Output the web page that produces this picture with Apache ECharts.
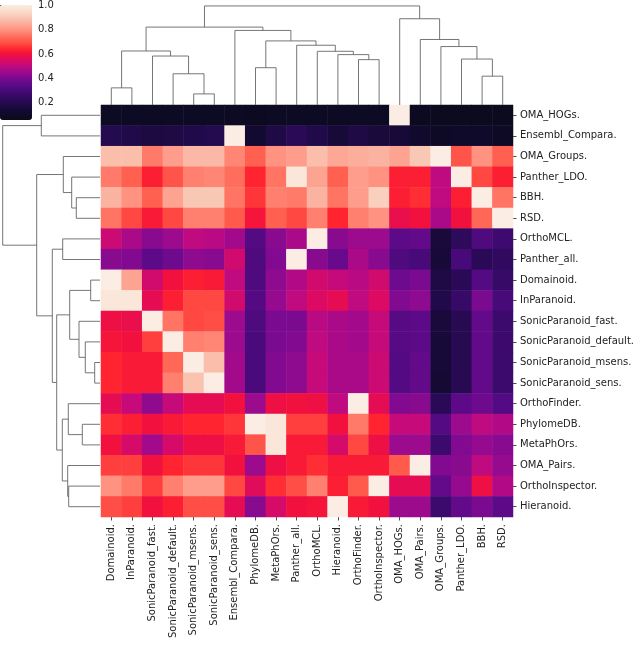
<!DOCTYPE html>
<html>
<head>
<meta charset="utf-8">
<script src="https://cdn.jsdelivr.net/npm/echarts@6/dist/echarts.min.js"></script>
<style>
html,body{margin:0;padding:0;background:#fff;}
#chart{width:643px;height:645px;}
</style>
</head>
<body>
<div id="chart"></div>
<script>
// ---- categories ----
const colNames = ['Domainoid.','InParanoid.','SonicParanoid_fast.','SonicParanoid_default.','SonicParanoid_msens.','SonicParanoid_sens.','Ensembl_Compara.','PhylomeDB.','MetaPhOrs.','Panther_all.','OrthoMCL.','Hieranoid.','OrthoFinder.','OrthoInspector.','OMA_HOGs.','OMA_Pairs.','OMA_Groups.','Panther_LDO.','BBH.','RSD.'];
const rowNames = ['OMA_HOGs.','Ensembl_Compara.','OMA_Groups.','Panther_LDO.','BBH.','RSD.','OrthoMCL.','Panther_all.','Domainoid.','InParanoid.','SonicParanoid_fast.','SonicParanoid_default.','SonicParanoid_msens.','SonicParanoid_sens.','OrthoFinder.','PhylomeDB.','MetaPhOrs.','OMA_Pairs.','OrthoInspector.','Hieranoid.'];

// ---- matrix values, one array per row (columns in colNames order) ----
const rowOMA_HOGs        = [0.09,0.09,0.09,0.09,0.09,0.09,0.09,0.08,0.09,0.09,0.09,0.09,0.09,0.09,1.00,0.08,0.07,0.07,0.07,0.07];
const rowEnsembl_Compara = [0.20,0.19,0.17,0.18,0.19,0.20,1.00,0.13,0.18,0.22,0.19,0.15,0.18,0.16,0.15,0.12,0.10,0.11,0.11,0.10];
const rowOMA_Groups      = [0.88,0.88,0.76,0.82,0.87,0.87,0.78,0.72,0.80,0.82,0.88,0.84,0.85,0.86,0.83,0.90,1.00,0.70,0.80,0.72];
const rowPanther_LDO     = [0.76,0.72,0.63,0.70,0.77,0.78,0.74,0.64,0.75,0.98,0.83,0.72,0.82,0.80,0.63,0.63,0.50,1.00,0.68,0.63];
const rowBBH             = [0.86,0.80,0.72,0.83,0.90,0.90,0.75,0.66,0.77,0.76,0.86,0.75,0.82,0.92,0.63,0.65,0.50,0.63,1.00,0.75];
const rowRSD             = [0.75,0.68,0.62,0.68,0.77,0.77,0.71,0.61,0.72,0.68,0.77,0.64,0.77,0.80,0.58,0.60,0.47,0.60,0.73,1.00];
const rowOrthoMCL        = [0.52,0.47,0.42,0.45,0.50,0.49,0.46,0.33,0.42,0.47,1.00,0.42,0.45,0.45,0.35,0.36,0.16,0.23,0.32,0.28];
const rowPanther_all     = [0.42,0.41,0.35,0.38,0.43,0.42,0.53,0.32,0.41,1.00,0.42,0.37,0.47,0.42,0.32,0.30,0.15,0.30,0.22,0.24];
const rowDomainoid       = [1.00,0.83,0.53,0.60,0.63,0.62,0.50,0.32,0.43,0.48,0.53,0.51,0.49,0.53,0.38,0.40,0.18,0.22,0.33,0.26];
const rowInParanoid      = [0.98,0.98,0.57,0.63,0.68,0.68,0.53,0.33,0.44,0.50,0.55,0.57,0.50,0.55,0.41,0.43,0.19,0.26,0.40,0.30];
const rowSP_fast         = [0.59,0.58,1.00,0.75,0.68,0.69,0.45,0.32,0.40,0.40,0.49,0.47,0.46,0.51,0.34,0.35,0.16,0.21,0.36,0.27];
const rowSP_default      = [0.61,0.60,0.67,1.00,0.77,0.78,0.45,0.31,0.40,0.41,0.50,0.47,0.46,0.51,0.34,0.35,0.15,0.21,0.36,0.27];
const rowSP_msens        = [0.64,0.62,0.62,0.73,1.00,0.88,0.46,0.31,0.41,0.43,0.51,0.47,0.47,0.52,0.33,0.36,0.15,0.21,0.36,0.27];
const rowSP_sens         = [0.64,0.62,0.62,0.77,0.89,1.00,0.46,0.31,0.41,0.43,0.51,0.47,0.47,0.52,0.33,0.36,0.14,0.21,0.36,0.27];
const rowOrthoFinder     = [0.57,0.51,0.43,0.51,0.57,0.57,0.60,0.45,0.59,0.60,0.59,0.50,1.00,0.57,0.41,0.42,0.22,0.35,0.38,0.33];
const rowPhylomeDB       = [0.65,0.63,0.60,0.62,0.64,0.64,0.66,1.00,0.98,0.67,0.67,0.60,0.76,0.64,0.51,0.51,0.33,0.45,0.50,0.48];
const rowMetaPhOrs       = [0.60,0.54,0.46,0.54,0.59,0.59,0.62,0.70,0.98,0.62,0.62,0.54,0.68,0.59,0.45,0.45,0.27,0.41,0.44,0.42];
const rowOMA_Pairs       = [0.67,0.67,0.60,0.64,0.66,0.66,0.60,0.45,0.59,0.62,0.65,0.62,0.62,0.62,0.71,1.00,0.41,0.42,0.50,0.44];
const rowOrthoInspector  = [0.80,0.76,0.67,0.77,0.82,0.82,0.68,0.56,0.65,0.69,0.77,0.63,0.71,1.00,0.57,0.57,0.36,0.44,0.59,0.48];
const rowHieranoid       = [0.69,0.67,0.60,0.63,0.69,0.69,0.57,0.42,0.54,0.60,0.61,1.00,0.62,0.60,0.45,0.45,0.27,0.36,0.40,0.35];
const matrixRows = [rowOMA_HOGs,rowEnsembl_Compara,rowOMA_Groups,rowPanther_LDO,rowBBH,rowRSD,rowOrthoMCL,rowPanther_all,rowDomainoid,rowInParanoid,rowSP_fast,rowSP_default,rowSP_msens,rowSP_sens,rowOrthoFinder,rowPhylomeDB,rowMetaPhOrs,rowOMA_Pairs,rowOrthoInspector,rowHieranoid];

// ---- dendrogram linkages: [leftChild, rightChild, distance]; leaves 0..19 in display order, merges numbered from 20 ----
const colLinkage = [
  [0,1,17.0],[4,5,11.0],[3,21,31.0],[2,22,48.6],[20,23,53.6],
  [7,8,37.0],[12,13,45.0],[11,26,50.0],[10,27,53.3],[9,28,59.3],
  [25,29,63.6],[6,30,74.0],[24,31,77.3],[18,19,28.6],[17,33,45.6],
  [16,34,58.0],[15,35,65.0],[14,36,85.6],[32,37,98.3]
];
const rowLinkage = [
  [0,1,58.7],[4,5,23.7],[3,21,28.3],[2,22,36.7],[6,7,37.3],
  [8,9,9.3],[12,13,5.3],[11,26,14.7],[10,27,21.0],[25,28,30.3],
  [15,16,17.7],[14,30,31.7],[18,19,31.3],[17,32,32.3],[31,33,37.7],
  [29,34,43.3],[24,35,47.7],[23,36,63.3],[20,37,97.3]
];

// ---- colour bar ----
const cbarMin = 0.06, cbarMax = 1.0;
const cbarTicks = [0.2, 0.4, 0.6, 0.8, 1.0];
const cmapStops = [
  [0.06,'#0a0a1c'],[0.10,'#0e0a26'],[0.15,'#170a38'],[0.20,'#240a4e'],[0.25,'#340a64'],
  [0.30,'#470a78'],[0.35,'#5c0a88'],[0.40,'#7a0a90'],[0.45,'#9c0a8e'],[0.50,'#c00a80'],
  [0.55,'#dc0a62'],[0.60,'#f2103e'],[0.64,'#ff2430'],[0.68,'#ff4842'],[0.72,'#ff6050'],
  [0.76,'#ff7a68'],[0.80,'#ff9280'],[0.85,'#fcae9c'],[0.90,'#f9c8b4'],[0.95,'#f9ddcc'],[1.00,'#fbede4']
];

function hexToRgb(h){ return [parseInt(h.slice(1,3),16),parseInt(h.slice(3,5),16),parseInt(h.slice(5,7),16)]; }
function cmapAt(v){
  if (v <= cmapStops[0][0]) return cmapStops[0][1];
  for (let i=1;i<cmapStops.length;i++){
    if (v <= cmapStops[i][0]){
      const [v0,c0]=cmapStops[i-1],[v1,c1]=cmapStops[i];
      const t=(v-v0)/(v1-v0), a=hexToRgb(c0), b=hexToRgb(c1);
      const c=a.map((x,k)=>Math.round(x+(b[k]-x)*t));
      return 'rgb('+c.join(',')+')';
    }
  }
  return cmapStops[cmapStops.length-1][1];
}
const nColors = 95;
const colorList = [];
for (let i=0;i<nColors;i++) colorList.push(cmapAt(cbarMin+(cbarMax-cbarMin)*i/(nColors-1)));

const heatData = [];
matrixRows.forEach((row,ri)=>row.forEach((v,ci)=>heatData.push([ci,ri,v])));

function dendroSegments(linkage, n, horizontal){
  const pos=[], ht=[];
  for (let i=0;i<n;i++){ pos.push(i+0.5); ht.push(0); }
  const segs=[];
  linkage.forEach(([l,r,h])=>{
    const pts=[[pos[l],ht[l]],[pos[l],h],[pos[r],h],[pos[r],ht[r]]];
    segs.push({coords: horizontal ? pts : pts.map(p=>[p[1],p[0]])});
    pos.push((pos[l]+pos[r])/2); ht.push(h);
  });
  return segs;
}

const FONT = 'DejaVu Sans';
const TXT = '#222';
const HM = {left:101, top:105, width:412, height:412};

const chart = echarts.init(document.getElementById('chart'), null, {renderer:'canvas'});
chart.setOption({
  animation:false,
  backgroundColor:'#fff',
  textStyle:{fontFamily:FONT},
  grid:[
    {left:HM.left, top:HM.top, width:HM.width, height:HM.height},
    {left:HM.left, top:1, width:HM.width, height:HM.top-1},
    {left:0, top:HM.top, width:HM.left-1, height:HM.height},
    {left:0, top:5, width:32, height:115}
  ],
  xAxis:[
    {type:'category', gridIndex:0, data:colNames, position:'bottom',
     axisLine:{show:false}, splitLine:{show:false},
     axisTick:{show:true, alignWithLabel:true, interval:0, length:3.5, lineStyle:{color:TXT, width:0.8}},
     axisLabel:{interval:0, rotate:90, margin:7, fontSize:10, color:TXT, fontFamily:FONT}},
    {type:'value', gridIndex:1, min:0, max:colNames.length, show:false},
    {type:'value', gridIndex:2, min:0, max:100, inverse:true, show:false},
    {type:'value', gridIndex:3, min:0, max:1, show:false}
  ],
  yAxis:[
    {type:'category', gridIndex:0, data:rowNames, inverse:true, position:'right',
     axisLine:{show:false}, splitLine:{show:false},
     axisTick:{show:true, alignWithLabel:true, interval:0, length:3.5, lineStyle:{color:TXT, width:0.8}},
     axisLabel:{interval:0, margin:7, fontSize:10, color:TXT, fontFamily:FONT}},
    {type:'value', gridIndex:1, min:0, max:103.2, show:false},
    {type:'value', gridIndex:2, min:0, max:rowNames.length, inverse:true, show:false},
    {type:'value', gridIndex:3, min:cbarMin, max:cbarMax, position:'right',
     axisLine:{show:false}, splitLine:{show:false},
     axisTick:{show:true, length:3.5, customValues:cbarTicks, lineStyle:{color:TXT, width:0.8}},
     axisLabel:{show:true, margin:6, fontSize:10, color:TXT, fontFamily:FONT,
       customValues:cbarTicks, formatter:v=>Number(v).toFixed(1)}}
  ],
  visualMap:[{
    type:'continuous', seriesIndex:0, min:cbarMin, max:cbarMax,
    left:0, top:5, itemWidth:32, itemHeight:115, padding:0,
    calculable:false, realtime:false, hoverLink:false, text:null,
    showLabel:false,
    inRange:{color:colorList}
  }],
  series:[
    {type:'heatmap', xAxisIndex:0, yAxisIndex:0, data:heatData, progressive:0,
     itemStyle:{borderWidth:0}, emphasis:{disabled:true}, silent:true},
    {type:'lines', coordinateSystem:'cartesian2d', xAxisIndex:1, yAxisIndex:1, polyline:true, silent:true,
     data:dendroSegments(colLinkage, colNames.length, true),
     lineStyle:{color:'#666', width:0.9, opacity:1}},
    {type:'lines', coordinateSystem:'cartesian2d', xAxisIndex:2, yAxisIndex:2, polyline:true, silent:true,
     data:dendroSegments(rowLinkage, rowNames.length, false),
     lineStyle:{color:'#666', width:0.9, opacity:1}},
    {type:'line', xAxisIndex:3, yAxisIndex:3, data:[], silent:true}
  ]
});
</script>
</body>
</html>
